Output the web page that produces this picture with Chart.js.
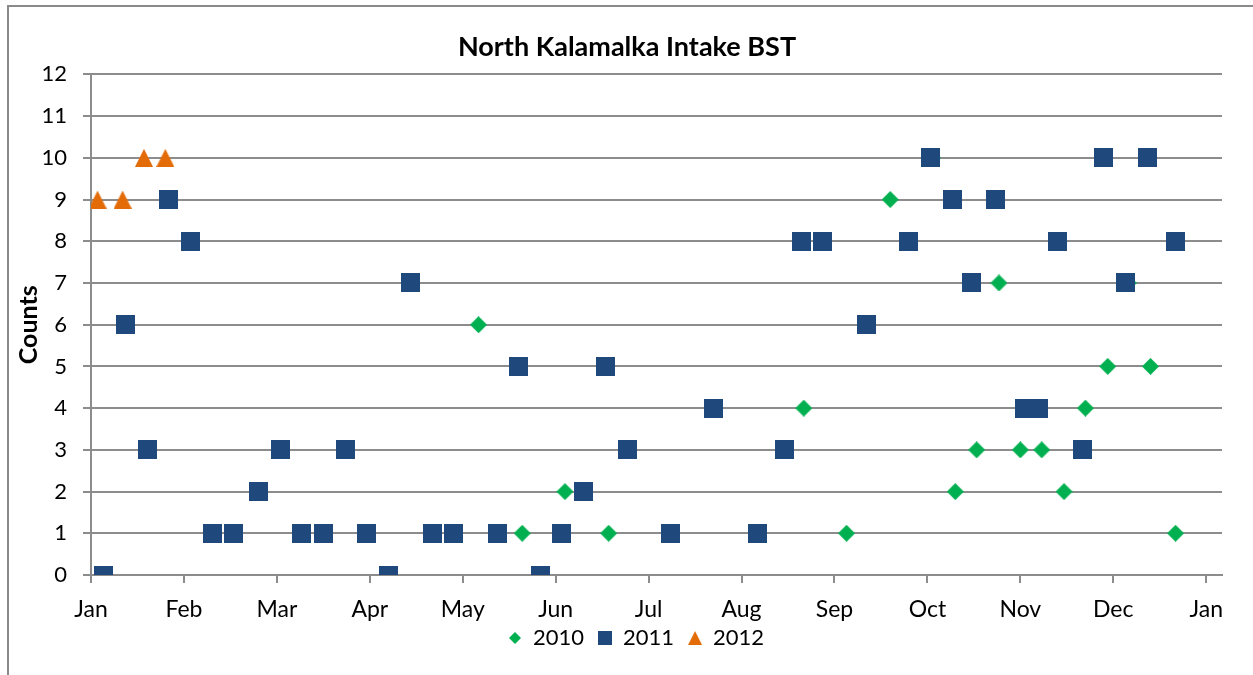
<!DOCTYPE html>
<html>
<head>
<meta charset="utf-8">
<script src="https://cdn.jsdelivr.net/npm/chart.js@4"></script>
<style>
  html, body { margin: 0; padding: 0; background: #fff; overflow: hidden; }
  #wrap { position: relative; width: 1253px; height: 675px; }
  #frame { position: absolute; left: 7px; top: 5px; width: 1400px; height: 800px;
           border-left: 2px solid #8a8a8a; border-top: 2px solid #8a8a8a; pointer-events: none; }
</style>
</head>
<body>
<div id="wrap">
  <canvas id="chart" width="1253" height="675"></canvas>
  <div id="frame"></div>
</div>
<script>
// x values are months since 1 Jan (Jan = 0, Feb = 1, ...), y values are counts
const monthLabels = ['Jan', 'Feb', 'Mar', 'Apr', 'May', 'Jun', 'Jul', 'Aug', 'Sep', 'Oct', 'Nov', 'Dec', 'Jan'];

const x2010 = [4.17, 4.64, 5.10, 5.57, 7.67, 8.13, 8.60, 9.05, 9.30, 9.53, 9.77, 10.00, 10.23, 10.47, 10.70, 10.94, 11.16, 11.40, 11.67];
const y2010 = [6, 1, 2, 1, 4, 1, 9, 10, 2, 3, 7, 3, 3, 2, 4, 5, 7, 5, 1];

const x2011 = [0.13, 0.37, 0.61, 0.83, 1.07, 1.31, 1.53, 1.80, 2.04, 2.27, 2.50, 2.74, 2.96, 3.20, 3.44, 3.67, 3.90,
               4.37, 4.60, 4.84, 5.06, 5.30, 5.54, 5.77, 6.24, 6.70, 7.17, 7.46, 7.64, 7.87, 8.34, 8.80,
               9.03, 9.27, 9.47, 9.73, 10.04, 10.20, 10.40, 10.67, 10.90, 11.13, 11.37, 11.67];
const y2011 = [0, 6, 3, 9, 8, 1, 1, 2, 3, 1, 1, 3, 1, 0, 7, 1, 1,
               1, 5, 0, 1, 2, 5, 3, 1, 4, 1, 3, 8, 8, 6, 8,
               10, 9, 7, 9, 4, 4, 8, 3, 10, 7, 10, 8];

const x2012 = [0.07, 0.34, 0.57, 0.80];
const y2012 = [9, 9, 10, 10];

const seriesNames = ['2010', '2011', '2012'];
const seriesColors = ['#00b050', '#1f497d', '#e36c09'];

function pairs(xs, ys) {
    return xs.map((x, i) => ({ x: x, y: ys[i] }));
}

// marker images
function marker(kind, size, color) {
    const c = document.createElement('canvas');
    c.width = size; c.height = size;
    const g = c.getContext('2d');
    g.fillStyle = color;
    g.beginPath();
    if (kind === 'square') {
        g.rect(0, 0, size, size);
    } else if (kind === 'diamond') {
        g.moveTo(size / 2, 0); g.lineTo(size, size / 2); g.lineTo(size / 2, size); g.lineTo(0, size / 2);
    } else {
        g.moveTo(size / 2, 0); g.lineTo(size, size); g.lineTo(0, size);
    }
    g.closePath();
    g.fill();
    return c;
}

const pointImgs = [marker('diamond', 17, seriesColors[0]), marker('square', 19, seriesColors[1]), marker('triangle', 18, seriesColors[2])];
const legendImgs = [marker('diamond', 12, seriesColors[0]), marker('square', 14, seriesColors[1]), marker('triangle', 14, seriesColors[2])];

const gridColor = '#8c8c8c';
const font = 'Lato, "Open Sans", sans-serif';

// nudge title and legend so they sit where the original has them
const nudgeBlocks = {
    id: 'nudgeBlocks',
    afterLayout(chart) {
        const t = chart.titleBlock, l = chart.legend;
        t.left += 9; t.right += 9;
        l.left += 18; l.right += 18;
        l.top -= 12; l.bottom -= 12;
    }
};

const ctx = document.querySelector('#chart').getContext('2d');
const chart = new Chart(ctx, {
    type: 'scatter',
    data: {
        datasets: [
            { label: seriesNames[0], data: pairs(x2010, y2010), pointStyle: pointImgs[0], backgroundColor: seriesColors[0], order: 3 },
            { label: seriesNames[1], data: pairs(x2011, y2011), pointStyle: pointImgs[1], backgroundColor: seriesColors[1], order: 2 },
            { label: seriesNames[2], data: pairs(x2012, y2012), pointStyle: pointImgs[2], backgroundColor: seriesColors[2], order: 1 }
        ]
    },
    options: {
        responsive: false,
        animation: false,
        layout: { padding: { left: 14, right: 31, top: 0, bottom: 4 } },
        plugins: {
            title: {
                display: true,
                text: 'North Kalamalka Intake BST',
                color: '#000',
                font: { family: font, size: 27, weight: 'bold' },
                padding: { top: 31, bottom: 11 }
            },
            legend: {
                position: 'bottom',
                labels: {
                    usePointStyle: true,
                    boxWidth: 14,
                    boxHeight: 14,
                    padding: 14,
                    color: '#000',
                    font: { family: font, size: 22 },
                    sort: (a, b) => a.datasetIndex - b.datasetIndex,
                    generateLabels: function(chart) {
                        const items = Chart.defaults.plugins.legend.labels.generateLabels(chart);
                        items.forEach(it => { it.pointStyle = legendImgs[it.datasetIndex]; });
                        return items;
                    }
                }
            },
            tooltip: { enabled: false }
        },
        scales: {
            x: {
                type: 'linear',
                min: 0,
                max: 12.17,
                afterBuildTicks: function(scale) {
                    scale.ticks = monthLabels.map((m, i) => ({ value: i }));
                },
                afterFit: function(scale) { scale.height = 50; },
                ticks: {
                    color: '#000',
                    font: { family: font, size: 23 },
                    padding: 13,
                    maxRotation: 0,
                    callback: v => monthLabels[v]
                },
                grid: { drawOnChartArea: false, drawTicks: true, tickLength: 8, color: gridColor, lineWidth: 2 },
                border: { color: gridColor, width: 2 }
            },
            y: {
                min: 0,
                max: 12,
                afterFit: function(scale) { scale.width = 77; },
                ticks: {
                    stepSize: 1,
                    color: '#000',
                    font: { family: font, size: 22 },
                    padding: 16
                },
                title: {
                    display: true,
                    text: 'Counts',
                    color: '#000',
                    font: { family: font, size: 25, weight: 'bold' },
                    padding: 0
                },
                grid: { color: gridColor, lineWidth: 2, tickLength: 8 },
                border: { color: gridColor, width: 2 }
            }
        }
    },
    plugins: [nudgeBlocks]
});
</script>
</body>
</html>
